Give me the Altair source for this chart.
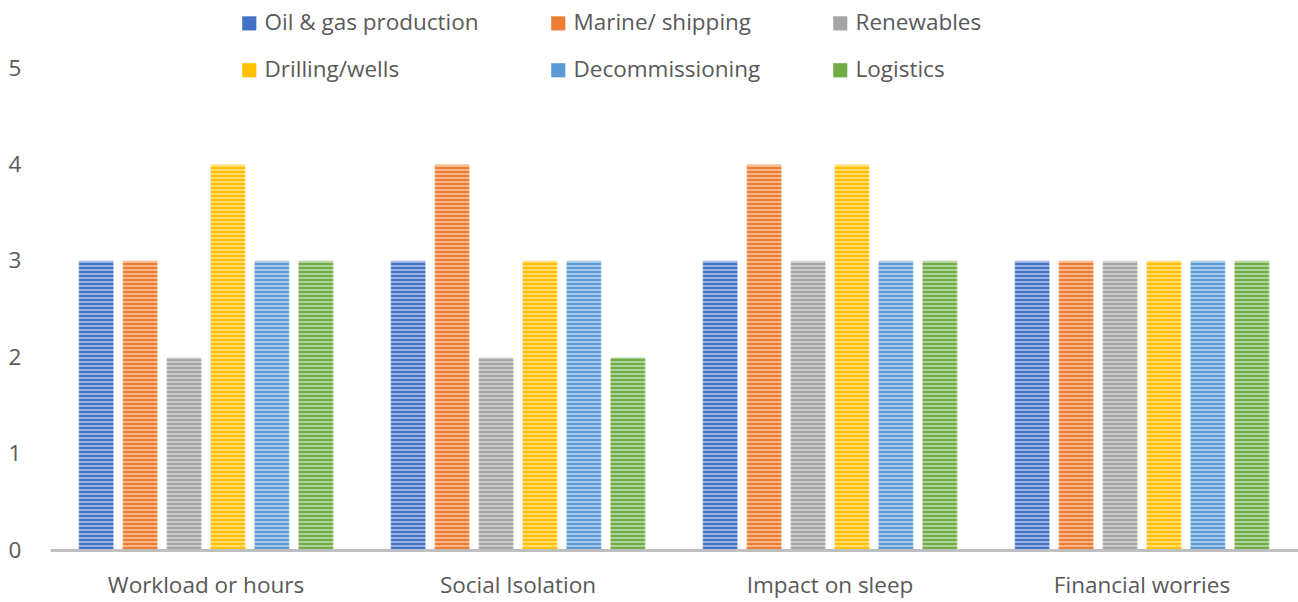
import altair as alt
import numpy as np
import pandas as pd

# Survey scores by stress factor and sector
categories = ["Workload or hours", "Social Isolation", "Impact on sleep", "Financial worries"]
sectors = ["Oil & gas production", "Marine/ shipping", "Renewables",
           "Drilling/wells", "Decommissioning", "Logistics"]
oil_gas = [3, 3, 3, 3]
marine = [3, 4, 4, 3]
renewables = [2, 2, 3, 3]
drilling = [4, 3, 4, 3]
decommissioning = [3, 3, 3, 3]
logistics = [3, 2, 3, 3]
colors = ["#4472C4", "#ED7D31", "#A5A5A5", "#FFC000", "#5B9BD5", "#70AD47"]

series = [oil_gas, marine, renewables, drilling, decommissioning, logistics]
rows = []
for name, vals in zip(sectors, series):
    for cat, v in zip(categories, vals):
        rows.append({"category": cat, "sector": name, "score": v})
df = pd.DataFrame(rows)

W, H = 1248, 482
FONT = "Open Sans"
TXT = "#595959"
FS = 22.5

bars = alt.Chart(df).mark_bar(stroke="white", strokeOpacity=0.35, strokeWidth=1.5).encode(
    x=alt.X("category:N", sort=categories, title=None,
            scale=alt.Scale(paddingInner=0.155, paddingOuter=0.0775),
            axis=alt.Axis(labelFontSize=FS, labelColor=TXT, labelFont=FONT, labelPadding=24,
                          labelLimit=400, ticks=False, domainColor="#BFBFBF", domainWidth=3,
                          labelAngle=0, zindex=1)),
    xOffset=alt.XOffset("sector:N", sort=sectors,
                        scale=alt.Scale(paddingInner=0.2, paddingOuter=0.1)),
    y=alt.Y("score:Q", title=None,
            scale=alt.Scale(domain=[0, 5]),
            axis=alt.Axis(values=[0, 1, 2, 3, 4, 5], grid=False, domain=False, ticks=False,
                          labelFontSize=FS, labelColor=TXT, labelFont=FONT,
                          labelAlign="left", labelPadding=42)),
    color=alt.Color("sector:N", sort=sectors,
                    scale=alt.Scale(domain=sectors, range=colors),
                    legend=alt.Legend(title=None, orient="none", legendX=188, legendY=-56,
                                      direction="horizontal", columns=3,
                                      columnPadding=68, rowPadding=24,
                                      symbolType="square", symbolSize=200,
                                      symbolStrokeWidth=0, labelFontSize=FS, labelLimit=500,
                                      labelFont=FONT, labelColor=TXT, labelOffset=4)),
)

# Horizontal light bands across the fills (invisible on the white background)
stripe_y = pd.DataFrame({"py": np.arange(2, H - 2, 4)})
stripes = alt.Chart(stripe_y).mark_rule(color="white", strokeWidth=1.8, opacity=0.45).encode(
    y=alt.Y("py:Q", scale=None, axis=None),
    x=alt.value(0),
    x2=alt.value(W),
)

chart = alt.layer(bars, stripes).resolve_scale(y="independent").properties(
    width=W, height=H,
    autosize="none",
    padding={"left": 50, "top": 68, "right": 0, "bottom": 52},
).configure_view(stroke=None)

chart.save("out.html", embed_options={"renderer": "svg", "actions": False})
